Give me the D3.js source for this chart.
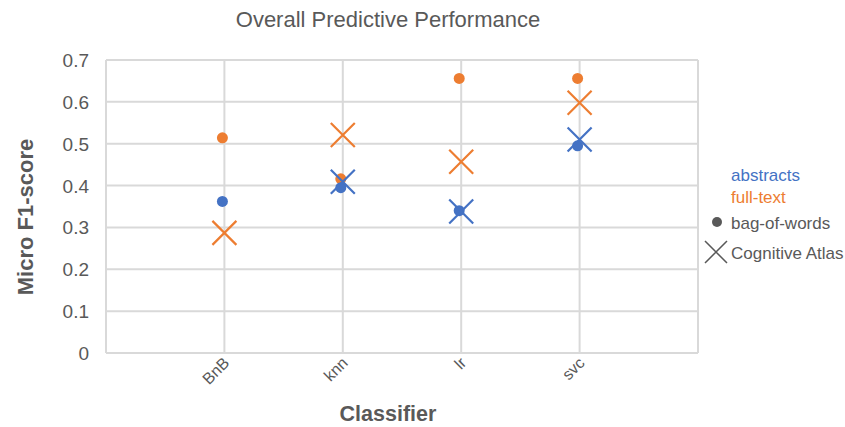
<!DOCTYPE html>
<html>
<head>
<meta charset="utf-8">
<script src="https://cdn.jsdelivr.net/npm/d3@7"></script>
<style>
  body { margin: 0; background: #fff; }
  text { font-family: "Liberation Sans", Arial, sans-serif; }
</style>
</head>
<body>
<script>
// categories on x axis
var classifiers = ["BnB", "knn", "lr", "svc"]
var yTicks = [0, 0.1, 0.2, 0.3, 0.4, 0.5, 0.6, 0.7]

// series values (micro F1)
var abstractsBow = [0.362, 0.395, 0.340, 0.495]
var abstractsCA  = [null, 0.409, 0.338, 0.510]
var fullTextBow  = [0.514, 0.416, 0.656, 0.656]
var fullTextCA   = [0.287, 0.521, 0.457, 0.598]

var blue = "#4472C4", orange = "#ED7D31", grey = "#595959"

var svg = d3.select("body").append("svg")
    .attr("width", 845)
    .attr("height", 427)

var x = d3.scaleLinear().domain([0, classifiers.length + 1]).range([106, 698])
var y = d3.scaleLinear().domain([0, 0.7]).range([353, 60])

// gridlines
svg.append("g")
    .selectAll("line.h")
    .data(yTicks)
    .enter().append("line")
    .attr("x1", x(0)).attr("x2", x(5))
    .attr("y1", d => y(d)).attr("y2", d => y(d))
    .style("stroke", "#d9d9d9").style("stroke-width", 2)

svg.append("g")
    .selectAll("line.v")
    .data(d3.range(0, classifiers.length + 2))
    .enter().append("line")
    .attr("x1", d => x(d)).attr("x2", d => x(d))
    .attr("y1", y(0)).attr("y2", y(0.7))
    .style("stroke", "#d9d9d9").style("stroke-width", 2)

// y tick labels
svg.append("g")
    .selectAll("text")
    .data(yTicks)
    .enter().append("text")
    .attr("x", 89)
    .attr("y", d => y(d) + 7)
    .attr("text-anchor", "end")
    .style("font-size", "19px")
    .style("fill", grey)
    .text(d => d === 0 ? "0" : d3.format(".1f")(d))

// x tick labels, rotated
svg.append("g")
    .selectAll("text")
    .data(classifiers)
    .enter().append("text")
    .attr("transform", (d, i) => "translate(" + (x(i + 1) + 6) + ",364) rotate(-45)")
    .attr("text-anchor", "end")
    .style("font-size", "16px")
    .style("fill", grey)
    .text(d => d)

// titles
svg.append("text")
    .attr("x", 388).attr("y", 27)
    .attr("text-anchor", "middle")
    .style("font-size", "22px")
    .style("fill", grey)
    .text("Overall Predictive Performance")

svg.append("text")
    .attr("x", 388).attr("y", 421)
    .attr("text-anchor", "middle")
    .style("font-size", "21.5px")
    .style("font-weight", "bold")
    .style("fill", grey)
    .text("Classifier")

svg.append("text")
    .attr("transform", "translate(33,217) rotate(-90)")
    .attr("text-anchor", "middle")
    .style("font-size", "22px")
    .style("font-weight", "bold")
    .style("fill", grey)
    .text("Micro F1-score")

// marks
function drawDots(values, color) {
    svg.append("g")
        .selectAll("circle")
        .data(values.map((v, i) => [i + 1, v]).filter(p => p[1] != null))
        .enter().append("circle")
        .attr("cx", d => x(d[0]) - 2)
        .attr("cy", d => y(d[1]))
        .attr("r", 5.5)
        .style("fill", color)
}

function crossPath(cx, cy, s) {
    return "M" + (cx - s) + "," + (cy - s) + "L" + (cx + s) + "," + (cy + s) +
           "M" + (cx - s) + "," + (cy + s) + "L" + (cx + s) + "," + (cy - s)
}

function drawCrosses(values, color) {
    svg.append("g")
        .selectAll("path")
        .data(values.map((v, i) => [i + 1, v]).filter(p => p[1] != null))
        .enter().append("path")
        .attr("d", d => crossPath(x(d[0]), y(d[1]), 12))
        .style("stroke", color)
        .style("stroke-width", 2.2)
        .style("fill", "none")
}

drawDots(fullTextBow, orange)
drawDots(abstractsBow, blue)
drawCrosses(fullTextCA, orange)
drawCrosses(abstractsCA, blue)

// legend
var legend = svg.append("g").style("font-size", "17px")
legend.append("text").attr("x", 731).attr("y", 181).style("fill", blue).text("abstracts")
legend.append("text").attr("x", 731).attr("y", 203).style("fill", orange).text("full-text")
legend.append("circle").attr("cx", 717).attr("cy", 222).attr("r", 5).style("fill", grey)
legend.append("text").attr("x", 731).attr("y", 229).style("fill", grey).text("bag-of-words")
legend.append("path").attr("d", crossPath(716, 252, 11))
    .style("stroke", grey).style("stroke-width", 1.5)
legend.append("text").attr("x", 731).attr("y", 259).style("fill", grey).text("Cognitive Atlas")
</script>
</body>
</html>
